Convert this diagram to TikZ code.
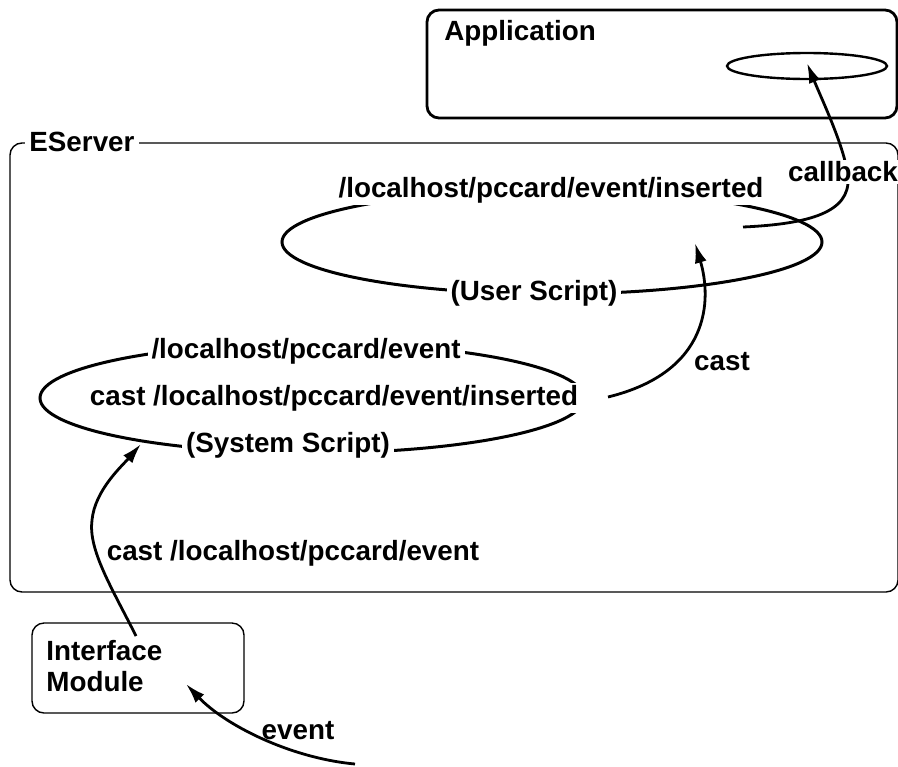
\documentclass[tikz,border=0pt]{standalone}
\usepackage{fontspec}
\setmainfont{Liberation Sans}
\usetikzlibrary{shapes.geometric,arrows.meta}

\begin{document}
\begin{tikzpicture}[
    x=0.5pt, y=-0.5pt,
    font=\fontsize{13.9}{15.5}\selectfont\bfseries,
    box/.style={draw, rounded corners=6pt, line width=0.7pt},
    appbox/.style={box, line width=1.4pt},
    script/.style={draw, ellipse, inner sep=0pt, line width=1.5pt},
    lbl/.style={inner sep=1pt},
    cutlbl/.style={lbl, fill=white, inner xsep=2pt},
    arr/.style={line width=1.4pt, -{Latex[length=10pt,width=6pt]}}
  ]
  \useasboundingbox (0,0) rectangle (898,766);

% --- Application ---
    \node[appbox, minimum width=235pt, minimum height=54pt] (app) at (662,64) {};
    \node[lbl, anchor=west] (applbl) at (442,33) {Application};
    \node[script, minimum width=80pt, minimum height=13pt, line width=1.2pt] (callee) at (807,66) {};

% --- EServer with both scripts ---
    \node[box, minimum width=444pt, minimum height=224.5pt] (eserver) at (454,367.5) {};
    \node[cutlbl, anchor=west] (eslbl) at (25,142) {EServer};

    \node[script, minimum width=270pt, minimum height=52pt] (user) at (552,242) {};
    \node[cutlbl] (usertop) at (551,190) {/localhost/pccard/event/inserted};
    \node[cutlbl] (userbot) at (534,293) {(User Script)};

    \node[script, minimum width=272pt, minimum height=55pt] (sys) at (312,398) {};
    \node[cutlbl] (systop) at (306,351) {/localhost/pccard/event};
    \node[cutlbl, inner xsep=4.5pt] (sysmid) at (334,398) {cast /localhost/pccard/event/inserted};
    \node[cutlbl] (sysbot) at (288,445) {(System Script)};

% --- Interface Module ---
    \node[box, minimum width=106pt, minimum height=45pt] (iface) at (138,668) {};
    \node[lbl, anchor=west, align=left] (ifacelbl) at (44,666) {Interface\\Module};

% --- end points of the arrows ---
    \coordinate (evsrc)   at (355,764);
    \coordinate (evdst)   at (186,684);
    \coordinate (ifout)   at (136,636);
    \coordinate (sysin)   at (141,444);
    \coordinate (sysout)  at (608,397);
    \coordinate (userin)  at (695,243);
    \coordinate (userout) at (743,227);
    \coordinate (appin)   at (807,63);

% --- arrows ---
    \draw[arr] (evsrc) .. controls (290,758) and (225,725) .. (evdst);
    \node[lbl] (evlbl) at (298,731) {event};

    \draw[arr] (ifout) .. controls (112,588) and (88,550) .. (92,520)
                       .. controls (95,490) and (122,466) .. (sysin);
    \node[lbl] (castlbl) at (293,553) {cast /localhost/pccard/event};

    \draw[arr] (sysout) .. controls (710,372) and (712,300) .. (userin);
    \node[lbl] (casttag) at (722,362) {cast};

    \draw[arr] (userout) .. controls (810,224) and (850,212) .. (848,178)
                         .. controls (846,150) and (822,100) .. (appin);
    \node[cutlbl] (cblbl) at (843,172) {callback};

\end{tikzpicture}
\end{document}
